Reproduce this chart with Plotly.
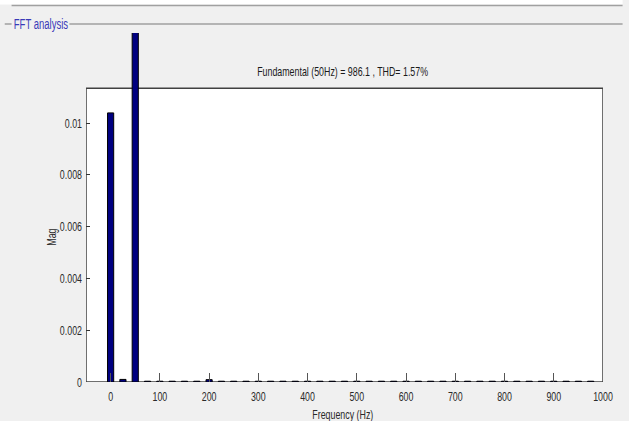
import plotly.graph_objects as go

# ---- data ----
freqs = [i * 25 for i in range(40)]  # 0 .. 975 Hz
mags = [0.01039, 0.00010, 986.1] + [0.00003] * 37
mags[8] = 0.00009  # 200 Hz
x_ticks = [0, 100, 200, 300, 400, 500, 600, 700, 800, 900, 1000]
y_ticks = [0, 0.002, 0.004, 0.006, 0.008, 0.01]
y_tick_text = ["0", "0.002", "0.004", "0.006", "0.008", "0.01"]
title_text = "Fundamental (50Hz) = 986.1 , THD= 1.57%"

W, H = 629, 421
L, R, T, B = 86, 15, 33, 39
plot_w = W - L - R
plot_h = H - T - B
px_per_unit = 25.9 / 0.001
y_max = plot_h / px_per_unit
frame_top_px = 88.3
frame_top = (H - B - frame_top_px) / px_per_unit


def py(p):
    return (H - B - p) / plot_h


def px(p):
    return (p - L) / plot_w


FONT = "Liberation Sans, Arial, sans-serif"
BG = "#f0f0f0"
TXT = "#2a2a2a"
FS = 13

fig = go.Figure()
fig.add_trace(go.Bar(x=freqs, y=mags, marker=dict(color="#000080", line=dict(color="#000000", width=1)),
                     width=12.5, showlegend=False, hoverinfo="skip"))

fig.update_layout(
    width=W, height=H,
    margin=dict(l=L, r=R, t=T, b=B),
    paper_bgcolor=BG, plot_bgcolor=BG,
    font=dict(family=FONT, size=FS, color=TXT),
    xaxis=dict(range=[-50, 1000], tickvals=x_ticks, ticks="inside", ticklen=9, tickcolor="#555555",
               showgrid=False, zeroline=False, showline=False, ticklabelstandoff=5,
               tickfont=dict(family=FONT, size=FS, color=TXT)),
    xaxis2=dict(range=[-50, 1000], overlaying="x", anchor="free", position=py(frame_top_px), side="top",
                tickvals=x_ticks, ticks="inside", ticklen=9, tickcolor="#555555", showticklabels=False,
                showgrid=False, zeroline=False, showline=False),
    yaxis=dict(range=[0, y_max], tickvals=y_ticks, ticktext=y_tick_text, ticks="inside", ticklen=4,
               tickcolor="#333333", showgrid=False, zeroline=False, showline=False, ticklabelstandoff=3,
               tickfont=dict(family=FONT, size=FS, color=TXT)),
    yaxis2=dict(range=[0, y_max], overlaying="y", anchor="x", side="right", tickvals=y_ticks,
                ticks="inside", ticklen=4, tickcolor="#333333", showticklabels=False,
                showgrid=False, zeroline=False, showline=False),
    shapes=[
        dict(type="rect", xref="x", yref="y", x0=-50, x1=1000, y0=0, y1=frame_top,
             fillcolor="white", line=dict(color="#404040", width=1.5), layer="below"),
        dict(type="rect", xref="paper", yref="paper", x0=px(-5), x1=px(W + 5), y0=py(4.5), y1=py(-5),
             fillcolor="white", line=dict(width=0), layer="below"),
        dict(type="line", xref="paper", yref="paper", x0=px(10), x1=px(W + 5), y0=py(5.5), y1=py(5.5),
             line=dict(color="#a0a0a0", width=1.5)),
        dict(type="line", xref="paper", yref="paper", x0=px(3), x1=px(10),
             y0=py(24), y1=py(24), line=dict(color="#a0a0a0", width=1.5)),
        dict(type="line", xref="paper", yref="paper", x0=px(69), x1=px(W + 5),
             y0=py(24), y1=py(24), line=dict(color="#a0a0a0", width=1.5)),
    ],
    annotations=[
        dict(text=title_text, xref="paper", yref="paper", x=px(348), y=py(71.5), showarrow=False,
             xanchor="center", yanchor="middle", font=dict(family=FONT, size=FS, color="#1a1a1a")),
        dict(text="FFT analysis", xref="paper", yref="paper", x=px(39.8), y=py(24),
             showarrow=False, xanchor="center", yanchor="middle",
             font=dict(family=FONT, size=14, color="#3a3ab8")),
        dict(text="Mag", xref="paper", yref="paper", x=px(51), y=py(237), textangle=-90,
             showarrow=False, xanchor="center", yanchor="middle", font=dict(family=FONT, size=FS, color=TXT)),
        dict(text="Frequency (Hz)", xref="paper", yref="paper", x=px(348), y=py(414),
             showarrow=False, xanchor="center", yanchor="middle", font=dict(family=FONT, size=FS, color=TXT)),
    ],
)

post = """
document.body.style.margin = '0';
document.body.style.overflow = 'hidden';
var gd = document.getElementById('{plot_id}');
gd.querySelectorAll('text').forEach(function (t) {
  var w = t.getComputedTextLength();
  if (w > 0) {
    t.setAttribute('textLength', (w * 0.68).toFixed(2));
    t.setAttribute('lengthAdjust', 'spacingAndGlyphs');
  }
});
"""

fig.write_html("out.html", post_script=post, config={"displayModeBar": False})
